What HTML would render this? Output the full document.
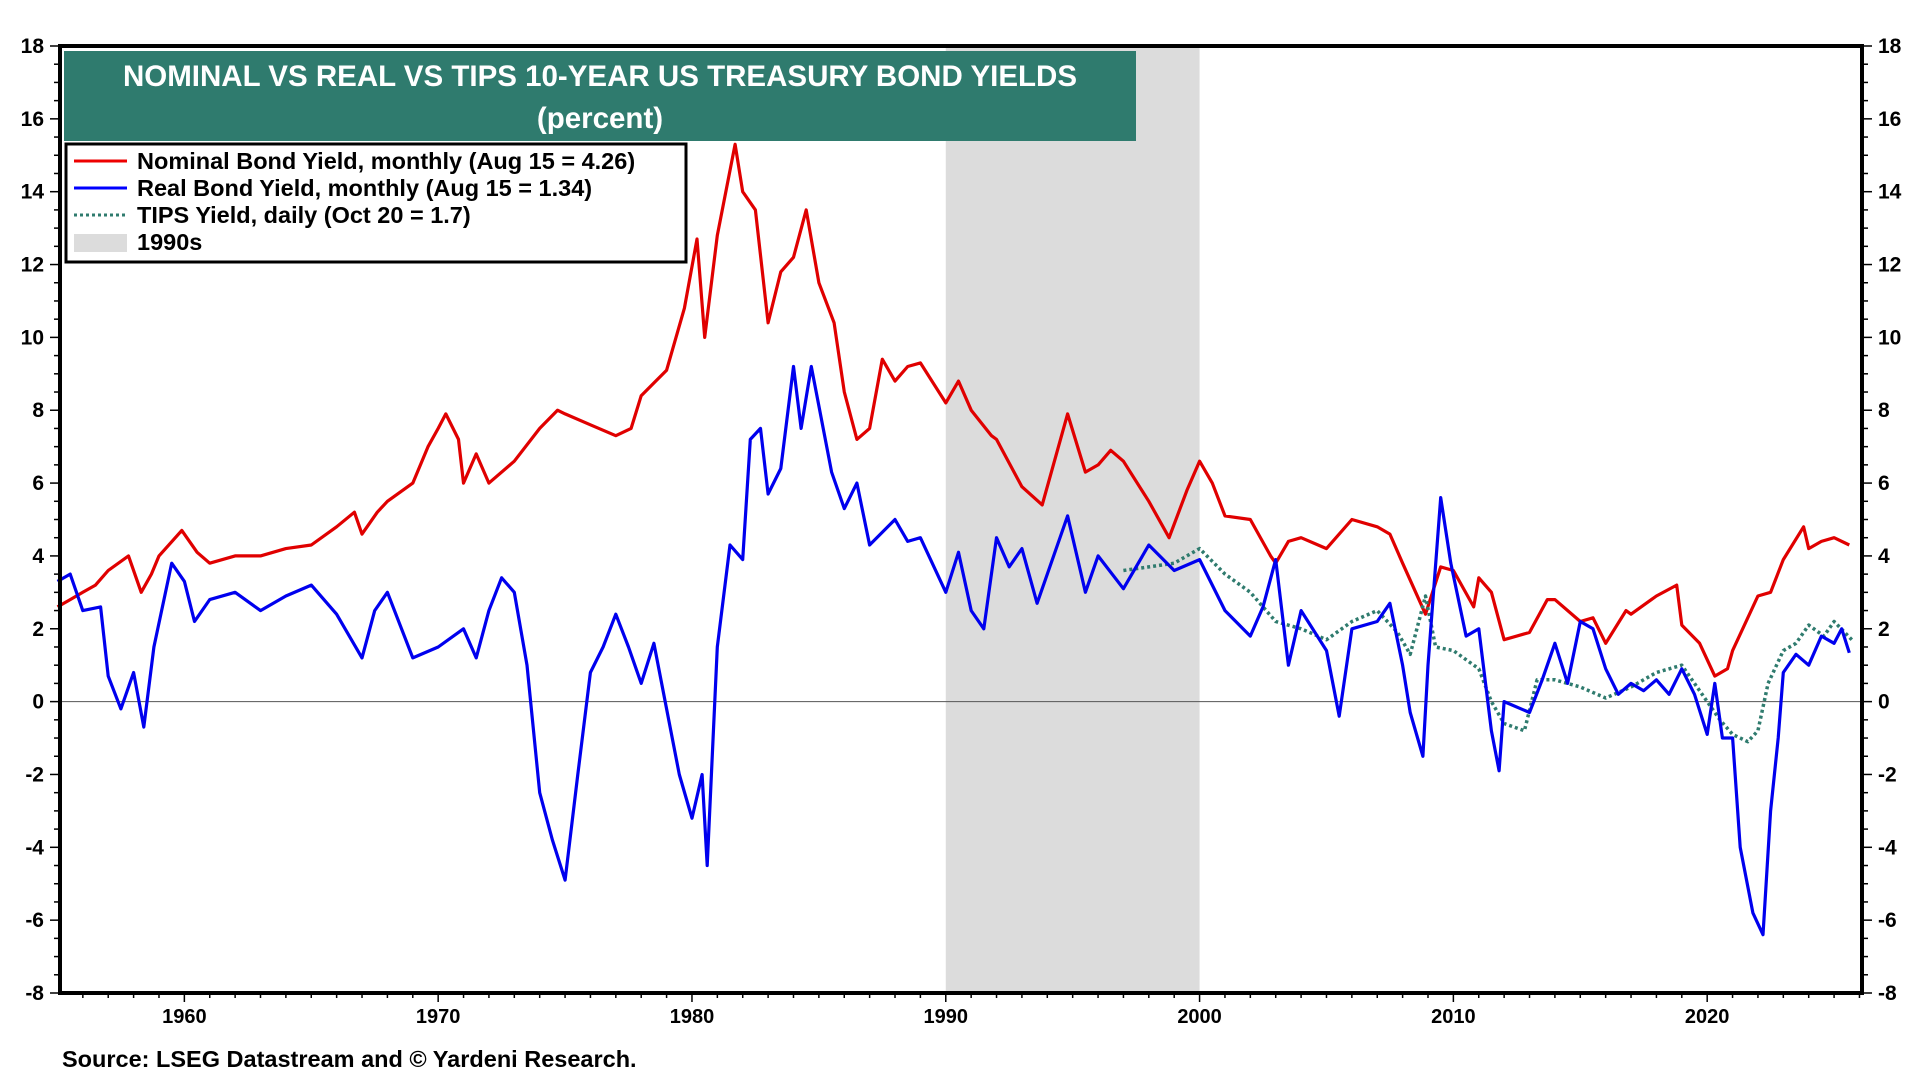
<!DOCTYPE html>
<html><head><meta charset="utf-8"><style>
html,body{margin:0;padding:0;background:#fff;width:1920px;height:1080px;overflow:hidden}
svg text{font-family:"Liberation Sans",Arial,sans-serif;font-weight:bold}
</style></head><body>
<svg id="chart" width="1920" height="1080" xmlns="http://www.w3.org/2000/svg">
<g id="bg"></g>
<g id="series"></g>
<g id="axes"></g>
<rect x="64" y="51" width="1072" height="90" fill="#2f7b6e"/>
<text x="600" y="86" fill="#fff" font-size="29.5" text-anchor="middle">NOMINAL VS REAL VS TIPS 10-YEAR US TREASURY BOND YIELDS</text>
<text x="600" y="128" fill="#fff" font-size="29.5" text-anchor="middle">(percent)</text>
<g>
<rect x="66" y="144" width="620" height="118" fill="#fff" stroke="#000" stroke-width="3"/>
<line x1="74" y1="161" x2="127" y2="161" stroke="#e00" stroke-width="3"/>
<text x="137" y="169" font-size="23.5">Nominal Bond Yield, monthly (Aug 15 = 4.26)</text>
<line x1="74" y1="188" x2="127" y2="188" stroke="#00f" stroke-width="3"/>
<text x="137" y="196" font-size="23.5">Real Bond Yield, monthly (Aug 15 = 1.34)</text>
<line x1="74" y1="215" x2="127" y2="215" stroke="#2f7b6e" stroke-width="3" stroke-dasharray="3,3"/>
<text x="137" y="223" font-size="23.5">TIPS Yield, daily (Oct 20 = 1.7)</text>
<rect x="74" y="234" width="53" height="18" fill="#dcdcdc"/>
<text x="137" y="250" font-size="23.5">1990s</text>
</g>
<text x="62" y="1067" font-size="23.5">Source: LSEG Datastream and © Yardeni Research.</text>
</svg>
<script>
const yTicks=[18,16,14,12,10,8,6,4,2,0,-2,-4,-6,-8];
const xTickYears=[1960,1970,1980,1990,2000,2010,2020];
const nomYears=[1955,1955.5,1956,1956.5,1957,1957.8,1958.3,1958.7,1959,1959.9,1960.5,1961,1962,1963,1964,1965,1966,1966.7,1967,1967.6,1968,1969,1969.6,1970,1970.3,1970.8,1971,1971.5,1972,1973,1974,1974.7,1975,1976,1977,1977.6,1978,1979,1979.7,1980.2,1980.5,1981,1981.7,1982,1982.5,1983,1983.5,1984,1984.5,1985,1985.6,1986,1986.5,1987,1987.5,1988,1988.5,1989,1990,1990.5,1991,1991.8,1992,1993,1993.8,1994.8,1995.5,1996,1996.5,1997,1998,1998.8,1999.5,2000,2000.5,2001,2002,2002.8,2003,2003.5,2004,2005,2006,2007,2007.5,2008,2008.9,2009.5,2010,2010.8,2011,2011.5,2012,2013,2013.7,2014,2015,2015.5,2016,2016.8,2017,2018,2018.8,2019,2019.7,2020.3,2020.8,2021,2022,2022.5,2023,2023.8,2024,2024.5,2025,2025.6];
const nomVals=[2.6,2.8,3.0,3.2,3.6,4.0,3.0,3.5,4.0,4.7,4.1,3.8,4.0,4.0,4.2,4.3,4.8,5.2,4.6,5.2,5.5,6.0,7.0,7.5,7.9,7.2,6.0,6.8,6.0,6.6,7.5,8.0,7.9,7.6,7.3,7.5,8.4,9.1,10.8,12.7,10.0,12.8,15.3,14.0,13.5,10.4,11.8,12.2,13.5,11.5,10.4,8.5,7.2,7.5,9.4,8.8,9.2,9.3,8.2,8.8,8.0,7.3,7.2,5.9,5.4,7.9,6.3,6.5,6.9,6.6,5.5,4.5,5.8,6.6,6.0,5.1,5.0,4.0,3.8,4.4,4.5,4.2,5.0,4.8,4.6,3.8,2.4,3.7,3.6,2.6,3.4,3.0,1.7,1.9,2.8,2.8,2.2,2.3,1.6,2.5,2.4,2.9,3.2,2.1,1.6,0.7,0.9,1.4,2.9,3.0,3.9,4.8,4.2,4.4,4.5,4.3];
const realYears=[1955,1955.5,1956,1956.7,1957,1957.5,1958,1958.4,1958.8,1959.5,1960,1960.4,1961,1962,1963,1964,1965,1966,1967,1967.5,1968,1969,1970,1971,1971.5,1972,1972.5,1973,1973.5,1974,1974.5,1975,1975.5,1976,1976.5,1977,1977.5,1978,1978.5,1979,1979.5,1980,1980.4,1980.6,1981,1981.5,1982,1982.3,1982.7,1983,1983.5,1984,1984.3,1984.7,1985.5,1986,1986.5,1987,1988,1988.5,1989,1990,1990.5,1991,1991.5,1992,1992.5,1993,1993.6,1994,1994.8,1995.5,1996,1997,1998,1999,2000,2001,2002,2002.5,2003,2003.5,2004,2005,2005.5,2006,2007,2007.5,2008,2008.3,2008.8,2009,2009.5,2009.9,2010.5,2011,2011.5,2011.8,2012,2013,2013.5,2014,2014.5,2015,2015.5,2016,2016.5,2017,2017.5,2018,2018.5,2019,2019.5,2020,2020.3,2020.6,2021,2021.3,2021.8,2022.2,2022.5,2022.8,2023,2023.5,2024,2024.5,2025,2025.3,2025.6];
const realVals=[3.3,3.5,2.5,2.6,0.7,-0.2,0.8,-0.7,1.5,3.8,3.3,2.2,2.8,3.0,2.5,2.9,3.2,2.4,1.2,2.5,3.0,1.2,1.5,2.0,1.2,2.5,3.4,3.0,1.0,-2.5,-3.8,-4.9,-2.0,0.8,1.5,2.4,1.5,0.5,1.6,-0.2,-2.0,-3.2,-2.0,-4.5,1.5,4.3,3.9,7.2,7.5,5.7,6.4,9.2,7.5,9.2,6.3,5.3,6.0,4.3,5.0,4.4,4.5,3.0,4.1,2.5,2.0,4.5,3.7,4.2,2.7,3.5,5.1,3.0,4.0,3.1,4.3,3.6,3.9,2.5,1.8,2.6,3.9,1.0,2.5,1.4,-0.4,2.0,2.2,2.7,1.0,-0.3,-1.5,1.0,5.6,3.8,1.8,2.0,-0.8,-1.9,0.0,-0.3,0.6,1.6,0.5,2.2,2.0,0.9,0.2,0.5,0.3,0.6,0.2,0.9,0.2,-0.9,0.5,-1.0,-1.0,-4.0,-5.8,-6.4,-3.0,-1.0,0.8,1.3,1.0,1.8,1.6,2.0,1.34];
const tipsYears=[1997,1998,1999,2000,2001,2002,2003,2004,2005,2006,2007,2007.8,2008.3,2008.9,2009.3,2010,2011,2011.5,2012,2012.8,2013.3,2014,2015,2016,2017,2018,2019,2020,2020.5,2021,2021.6,2022,2022.4,2023,2023.5,2024,2024.6,2025,2025.7];
const tipsVals=[3.6,3.7,3.8,4.2,3.5,3.0,2.2,2.0,1.7,2.2,2.5,1.9,1.3,2.9,1.5,1.4,0.9,0.0,-0.6,-0.8,0.6,0.6,0.4,0.1,0.4,0.8,1.0,0.0,-0.5,-0.9,-1.1,-0.8,0.5,1.4,1.6,2.1,1.8,2.2,1.7];
const decadeShade=[1990,2000];

const L=60,R=1862,T=46,B=993,X0=1955.1,X1=2026.1,Y0=-8,Y1=18;
const xs=v=>L+(v-X0)/(X1-X0)*(R-L);
const ys=v=>B-(v-Y0)/(Y1-Y0)*(B-T);
const NS='http://www.w3.org/2000/svg';
function mk(tag,attrs,parent){const e=document.createElementNS(NS,tag);for(const k in attrs)e.setAttribute(k,attrs[k]);parent.appendChild(e);return e;}
const bg=document.getElementById('bg'),sg=document.getElementById('series'),ax=document.getElementById('axes');
const sh=mk('rect',{x:xs(decadeShade[0]),y:T,width:xs(decadeShade[1])-xs(decadeShade[0]),height:B-T,fill:'#dcdcdc'},bg);


const zl=mk('line',{x1:L,x2:R,y1:ys(0),y2:ys(0),stroke:'#555','stroke-width':1},bg);


function path(xa,va,color,name,dash){
  const d=xa.map((x,i)=>(i?'L':'M')+xs(x).toFixed(1)+','+ys(va[i]).toFixed(1)).join('');
  const p=mk('path',{d:d,fill:'none',stroke:color,'stroke-width':dash?3.5:3.2,'stroke-linejoin':'round'},sg);
  if(dash)p.setAttribute('stroke-dasharray','3,3');
  
  
}
path(nomYears,nomVals,'#e00000','nominal-yield-line');
path(tipsYears,tipsVals,'#2f7b6e','tips-yield-line',true);
path(realYears,realVals,'#0000ee','real-yield-line');
const fr=mk('rect',{x:L,y:T,width:R-L,height:B-T,fill:'none',stroke:'#000','stroke-width':4},ax);


for(let v=Y0;v<=Y1;v+=0.5){
  const maj=v%2===0;
  mk('line',{x1:L-(maj?10:6),x2:L,y1:ys(v),y2:ys(v),stroke:'#000','stroke-width':1.5},ax);
  mk('line',{x1:R,x2:R+(maj?10:6),y1:ys(v),y2:ys(v),stroke:'#000','stroke-width':1.5},ax);
}
yTicks.forEach(v=>{
  const t1=mk('text',{x:L-16,y:ys(v)+7,'font-size':21,'text-anchor':'end'},ax);t1.textContent=v;
  
  
  const t2=mk('text',{x:R+16,y:ys(v)+7,'font-size':21,'text-anchor':'start'},ax);t2.textContent=v;
  
  
});
for(let y=1956;y<=2026;y++){
  mk('line',{x1:xs(y),x2:xs(y),y1:B,y2:B+(y%10===0?9:5),stroke:'#000','stroke-width':1.5},ax);
}
xTickYears.forEach(y=>{
  const t=mk('text',{x:xs(y),y:B+30,'font-size':20,'text-anchor':'middle'},ax);t.textContent=y;
  
  
});
</script>
</body></html>
